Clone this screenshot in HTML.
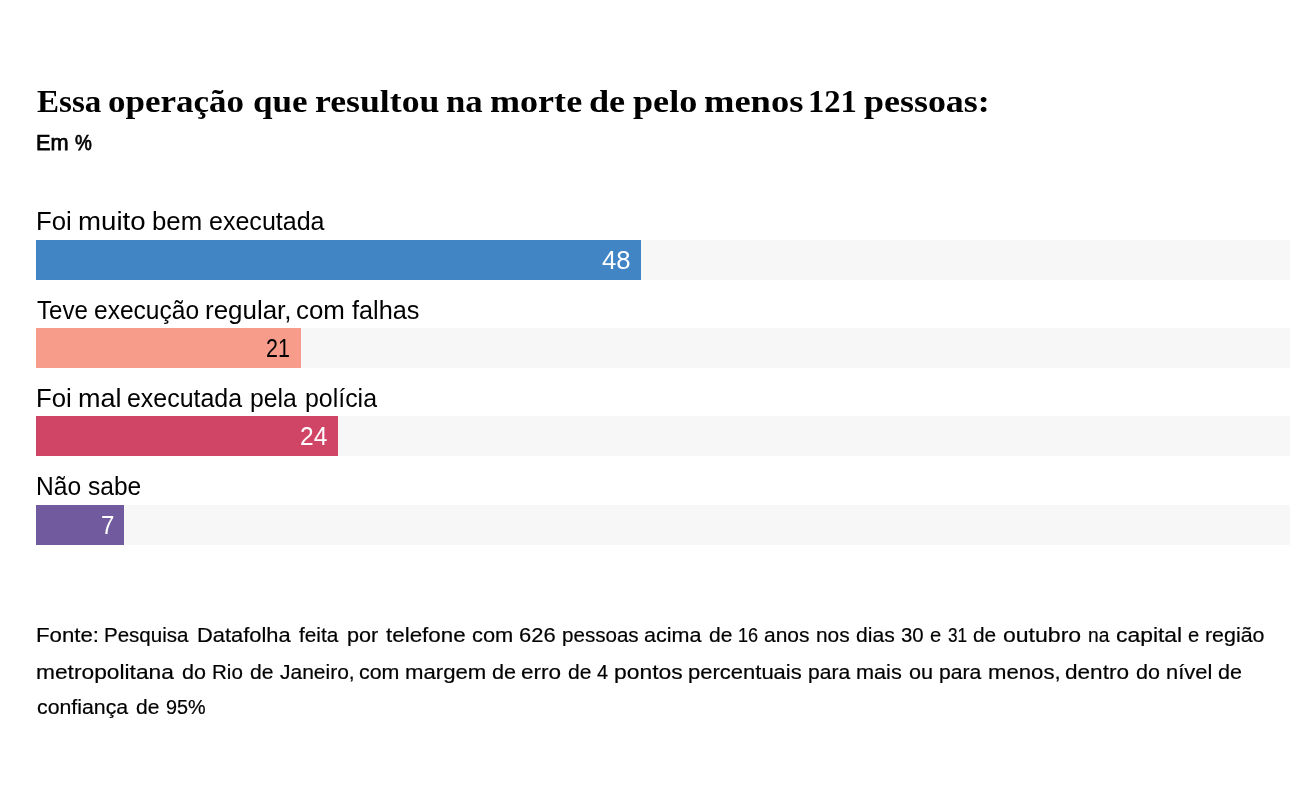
<!DOCTYPE html>
<html lang="pt-BR">
<head>
<meta charset="utf-8">
<title>Datafolha</title>
<style>
  html, body { margin: 0; padding: 0; background: #fff; }
  body { width: 1290px; height: 790px; overflow: hidden; position: relative; color: #000;
         font-family: "Liberation Sans", sans-serif; }
  .row { position: absolute; left: 0; margin: 0; height: 30px; line-height: 30px; white-space: nowrap; width: 1290px; }
  .row span { position: absolute; top: 0; transform-origin: 0 50%; white-space: nowrap; }
  .ttl { font-family: "Liberation Serif", serif; font-weight: bold; font-size: 32px; }
  .sub { font-size: 21.5px; -webkit-text-stroke: 0.75px #000; }
  .lbl, .val { font-size: 25px; }
  .ft { font-size: 20.5px; -webkit-text-stroke: 0.2px #000; }
  .track { position: absolute; left: 36px; width: 1260px; height: 40px; background: #f7f7f7; }
  .bar { position: relative; height: 40px; }
  .bar .val { width: 100%; }
</style>
</head>
<body>
<h1 class="row ttl" style="top:85.90px"><span style="left:36.88px;transform:scaleX(1.0335)">Essa</span> <span style="left:108.43px;transform:scaleX(1.0934)">operação</span> <span style="left:252.93px;transform:scaleX(1.0953)">que</span> <span style="left:315.06px;transform:scaleX(1.1162)">resultou</span> <span style="left:445.89px;transform:scaleX(1.0862)">na</span> <span style="left:489.85px;transform:scaleX(1.1277)">morte</span> <span style="left:589.09px;transform:scaleX(1.1300)">de</span> <span style="left:632.54px;transform:scaleX(1.1294)">pelo</span> <span style="left:703.94px;transform:scaleX(1.1404)">menos</span> <span style="left:808.45px;transform:scaleX(1.0194)">121</span> <span style="left:863.74px;transform:scaleX(1.1228)">pessoas:</span></h1>
<div class="row sub" style="top:128.45px"><span style="left:36.23px;transform:scaleX(1.0101)">Em</span> <span style="left:74.86px;transform:scaleX(0.8822)">%</span></div>
<div class="row lbl" style="top:206.04px"><span style="left:35.64px;transform:scaleX(1.0290)">Foi</span> <span style="left:77.57px;transform:scaleX(1.1056)">muito</span> <span style="left:152.05px;transform:scaleX(1.0308)">bem</span> <span style="left:208.50px;transform:scaleX(1.0013)">executada</span></div>
<div class="track" style="top:240px"><div class="bar" style="width:605px;background:#4285c4;color:#fff"><div class="row val" style="top:5.04px"><span style="left:566.29px;transform:scaleX(1.0286)">48</span></div></div></div>
<div class="row lbl" style="top:295.14px"><span style="left:36.52px;transform:scaleX(0.9620)">Teve</span> <span style="left:94.12px;transform:scaleX(0.9819)">execução</span> <span style="left:204.68px;transform:scaleX(1.0377)">regular,</span> <span style="left:295.96px;transform:scaleX(1.0360)">com</span> <span style="left:352.35px;transform:scaleX(1.0107)">falhas</span></div>
<div class="track" style="top:328px"><div class="bar" style="width:265px;background:#f79c8b;color:#000"><div class="row val" style="top:4.54px"><span style="left:229.93px;transform:scaleX(0.8594)">21</span></div></div></div>
<div class="row lbl" style="top:382.94px"><span style="left:35.64px;transform:scaleX(1.0290)">Foi</span> <span style="left:77.61px;transform:scaleX(1.0811)">mal</span> <span style="left:126.50px;transform:scaleX(0.9978)">executada</span> <span style="left:250.12px;transform:scaleX(0.9880)">pela</span> <span style="left:305.01px;transform:scaleX(0.9965)">polícia</span></div>
<div class="track" style="top:416px"><div class="bar" style="width:302px;background:#d04565;color:#fff"><div class="row val" style="top:5.04px"><span style="left:264.47px;transform:scaleX(0.9825)">24</span></div></div></div>
<div class="row lbl" style="top:470.94px"><span style="left:36.04px;transform:scaleX(0.9825)">Não</span> <span style="left:88.06px;transform:scaleX(0.9818)">sabe</span></div>
<div class="track" style="top:505px"><div class="bar" style="width:88px;background:#715a9e;color:#fff"><div class="row val" style="top:5.34px"><span style="left:65.39px;transform:scaleX(0.9652)">7</span></div></div></div>
<div class="foot">
<div class="row ft" style="top:620.20px"><span style="left:35.77px;transform:scaleX(1.0836)">Fonte:</span> <span style="left:104.20px;transform:scaleX(1.0012)">Pesquisa</span> <span style="left:196.60px;transform:scaleX(1.0671)">Datafolha</span> <span style="left:298.95px;transform:scaleX(1.0142)">feita</span> <span style="left:347.28px;transform:scaleX(1.0549)">por</span> <span style="left:386.33px;transform:scaleX(1.0917)">telefone</span> <span style="left:471.90px;transform:scaleX(1.0667)">com</span> <span style="left:518.73px;transform:scaleX(1.0708)">626</span> <span style="left:561.54px;transform:scaleX(1.0040)">pessoas</span> <span style="left:644.41px;transform:scaleX(1.0519)">acima</span> <span style="left:708.63px;transform:scaleX(1.0259)">de</span> <span style="left:737.88px;transform:scaleX(0.8829)">16</span> <span style="left:764.43px;transform:scaleX(1.0233)">anos</span> <span style="left:816.03px;transform:scaleX(1.0176)">nos</span> <span style="left:856.23px;transform:scaleX(1.0290)">dias</span> <span style="left:900.96px;transform:scaleX(0.9929)">30</span> <span style="left:929.96px;transform:scaleX(0.9846)">e</span> <span style="left:947.57px;transform:scaleX(0.8376)">31</span> <span style="left:973.44px;transform:scaleX(1.0165)">de</span> <span style="left:1002.86px;transform:scaleX(1.1235)">outubro</span> <span style="left:1087.63px;transform:scaleX(0.9379)">na</span> <span style="left:1116.46px;transform:scaleX(1.1162)">capital</span> <span style="left:1188.16px;transform:scaleX(0.9846)">e</span> <span style="left:1205.00px;transform:scaleX(1.0436)">região</span></div>
<div class="row ft" style="top:657.00px"><span style="left:36.01px;transform:scaleX(1.1098)">metropolitana</span> <span style="left:181.81px;transform:scaleX(1.0494)">do</span> <span style="left:212.09px;transform:scaleX(1.0035)">Rio</span> <span style="left:250.03px;transform:scaleX(1.0306)">de</span> <span style="left:280.34px;transform:scaleX(1.0239)">Janeiro,</span> <span style="left:359.02px;transform:scaleX(1.0449)">com</span> <span style="left:405.05px;transform:scaleX(1.0818)">margem</span> <span style="left:491.71px;transform:scaleX(1.0541)">de</span> <span style="left:521.47px;transform:scaleX(1.1000)">erro</span> <span style="left:567.93px;transform:scaleX(1.0259)">de</span> <span style="left:597.26px;transform:scaleX(0.9674)">4</span> <span style="left:614.00px;transform:scaleX(1.1163)">pontos</span> <span style="left:688.26px;transform:scaleX(1.0731)">percentuais</span> <span style="left:807.92px;transform:scaleX(1.0275)">para</span> <span style="left:856.48px;transform:scaleX(1.0578)">mais</span> <span style="left:909.11px;transform:scaleX(1.0554)">ou</span> <span style="left:939.01px;transform:scaleX(1.0325)">para</span> <span style="left:987.75px;transform:scaleX(1.0802)">menos,</span> <span style="left:1065.17px;transform:scaleX(1.1013)">dentro</span> <span style="left:1136.31px;transform:scaleX(1.0494)">do</span> <span style="left:1165.76px;transform:scaleX(1.0699)">nível</span> <span style="left:1217.91px;transform:scaleX(1.0494)">de</span></div>
<div class="row ft" style="top:692.30px"><span style="left:36.62px;transform:scaleX(1.0384)">confiança</span> <span style="left:135.93px;transform:scaleX(1.0259)">de</span> <span style="left:165.78px;transform:scaleX(0.9660)">95%</span></div>
</div>
</body>
</html>
